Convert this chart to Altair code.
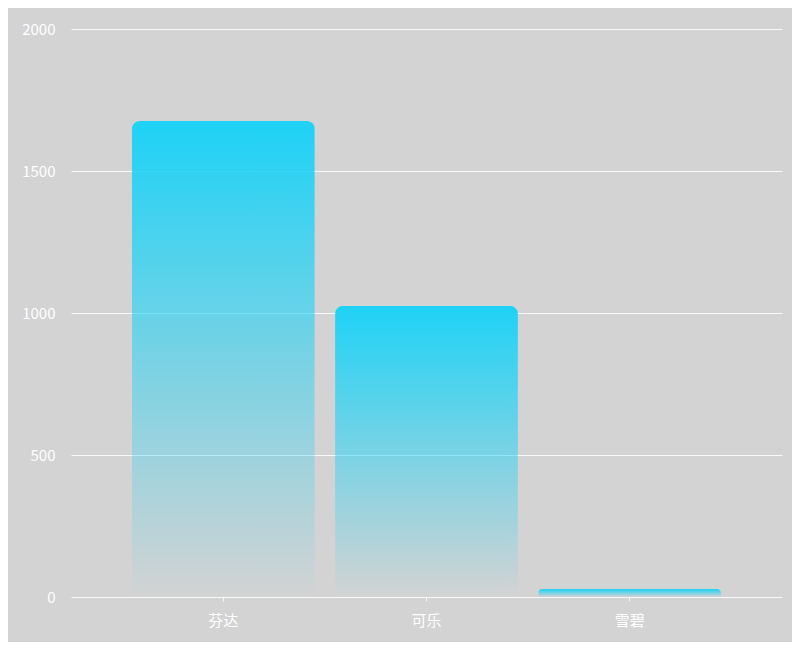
import altair as alt
import pandas as pd

categories = ["芬达", "可乐", "雪碧"]
values = [1676, 1025, 28]
y_ticks = [0, 500, 1000, 1500, 2000]

df = pd.DataFrame({"name": categories, "value": values})

grad = alt.Gradient(
    gradient="linear",
    x1=0, y1=0, x2=0, y2=1,
    stops=[
        alt.GradientStop(color="rgba(30,210,246,1)", offset=0),
        alt.GradientStop(color="rgba(30,210,246,0.5)", offset=0.5),
        alt.GradientStop(color="rgba(30,210,246,0)", offset=1),
    ],
)

chart = alt.Chart(df).mark_bar(
    color=grad,
    cornerRadiusTopLeft=8,
    cornerRadiusTopRight=8,
).encode(
    x=alt.X("name:N", sort=categories, title=None,
            scale=alt.Scale(paddingInner=0.1, paddingOuter=0.3),
            axis=alt.Axis(labelAngle=0, domain=False, ticks=True, tickSize=4,
                          tickColor="rgba(255,255,255,0.8)", labelPadding=12,
                          labelColor="white", labelFontSize=15,
                          labelFont="Noto Sans CJK SC", grid=False)),
    y=alt.Y("value:Q", title=None,
            scale=alt.Scale(domain=[0, 2000]),
            axis=alt.Axis(values=y_ticks, format="d", domain=False, ticks=False,
                          labelPadding=16, labelColor="white", labelFontSize=15,
                          labelFont="Noto Sans CJK SC",
                          gridColor="rgba(255,255,255,0.85)", gridWidth=1, gridOpacity=1)),
).properties(
    width=711, height=568,
    background="#d3d3d3",
    padding={"left": 63, "top": 21, "right": 10, "bottom": 45},
    autosize=alt.AutoSizeParams(type="none"),
).configure_view(stroke=None)

chart.save("out.html", embed_options={"renderer": "svg", "actions": False})
